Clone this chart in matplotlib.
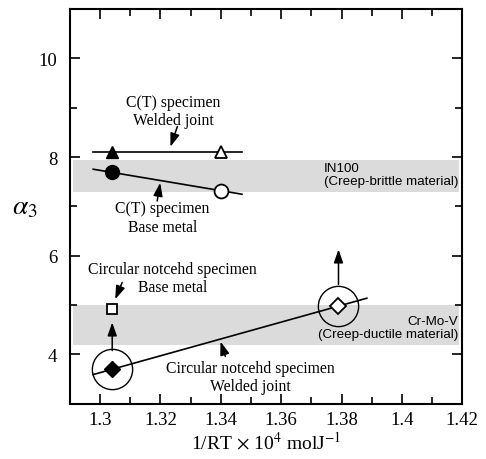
import numpy as np
import matplotlib
matplotlib.use("Agg")
import matplotlib.pyplot as plt

plt.rcParams["font.family"] = ["Liberation Serif", "DejaVu Serif"]
plt.rcParams["mathtext.fontset"] = "stix"

# ---- data ----
x_base, x_ref = 1.304, 1.340          # C(T) specimens
x_cn_lo, x_cn_hi = 1.304, 1.379       # circular notched specimens
ct_welded = [8.10, 8.10]              # C(T) welded joint
ct_base = [7.69, 7.32]                # C(T) base metal
cn_welded = [3.70, 4.98]              # circular notched welded joint
cn_base = 4.93                        # circular notched base metal
in100_band = (7.30, 7.95)
crmov_band = (4.20, 5.00)

fig = plt.figure(figsize=(4.86, 4.60), dpi=100)
ax = fig.add_axes([0.144, 0.120, 0.807, 0.858])
ax.set_xlim(1.29, 1.42)
ax.set_ylim(3, 11)

band_c = "#dcdbdc"
ax.axhspan(*in100_band, xmin=0.008, xmax=0.993, color=band_c, lw=0, zorder=0)
ax.axhspan(*crmov_band, xmin=0.008, xmax=0.993, color=band_c, lw=0, zorder=0)

def fit_line(x0, x1, y0, y1, xa, xb):
    k = (y1 - y0) / (x1 - x0)
    return [xa, xb], [y0 + k * (xa - x0), y0 + k * (xb - x0)]

lw = 1.2
# C(T) welded joint
ax.plot(*fit_line(x_base, x_ref, *ct_welded, 1.2977, 1.347), color="k", lw=lw, zorder=2)
ax.plot(x_base, ct_welded[0], "^", color="k", ms=9, zorder=3)
ax.plot(x_ref, ct_welded[1], "^", mfc="white", mec="k", mew=1.3, ms=9, zorder=3)
# C(T) base metal
ax.plot(*fit_line(x_base, x_ref, *ct_base, 1.2977, 1.347), color="k", lw=lw, zorder=2)
ax.plot(x_base, ct_base[0], "o", color="k", ms=10, zorder=3)
ax.plot(x_ref, ct_base[1], "o", mfc="white", mec="k", mew=1.3, ms=10, zorder=3)
# circular notched specimens
ax.plot(*fit_line(x_cn_lo, x_cn_hi, *cn_welded, 1.2977, 1.3884), color="k", lw=lw, zorder=2)
ax.plot(x_cn_lo, cn_welded[0], "D", color="k", ms=8, zorder=3)
ax.plot(x_cn_hi, cn_welded[1], "D", mfc="white", mec="k", mew=1.3, ms=8, zorder=3)
ax.plot([x_cn_lo, x_cn_hi], cn_welded, "o", mfc="none", mec="k", mew=1.0, ms=29, zorder=3)
ax.plot(x_cn_lo, cn_base, "s", mfc="white", mec="k", mew=1.3, ms=7.5, zorder=3)

# arrows
arr = dict(arrowstyle="-|>,head_length=0.8,head_width=0.28", color="k", lw=1.1,
           shrinkA=0, shrinkB=0)
ax.annotate("", xy=(x_cn_lo, 4.65), xytext=(x_cn_lo, 4.08), arrowprops=arr)
ax.annotate("", xy=(x_cn_hi, 6.13), xytext=(x_cn_hi, 5.42), arrowprops=arr)
ax.annotate("", xy=(1.3233, 8.21), xytext=(1.3256, 8.62), arrowprops=arr)
ax.annotate("", xy=(1.3199, 7.48), xytext=(1.3189, 7.11), arrowprops=arr)
ax.annotate("", xy=(1.3050, 5.12), xytext=(1.3073, 5.46), arrowprops=arr)
ax.annotate("", xy=(1.3399, 4.26), xytext=(1.3415, 3.96), arrowprops=arr)

# labels
fs = 11.3
ax.text(1.3243, 8.93, "C(T) specimen\nWelded joint", ha="center", va="center",
        fontsize=fs, linespacing=1.2)
ax.text(1.3206, 6.78, "C(T) specimen\nBase metal", ha="center", va="center",
        fontsize=fs, linespacing=1.2)
ax.text(1.3240, 5.55, "Circular notcehd specimen\nBase metal", ha="center", va="center",
        fontsize=fs, linespacing=1.2)
ax.text(1.3498, 3.54, "Circular notcehd specimen\nWelded joint", ha="center", va="center",
        fontsize=fs, linespacing=1.2)
sans = ["Liberation Sans", "DejaVu Sans"]
ax.text(1.3741, 7.65, "IN100\n(Creep-brittle material)", ha="left", va="center",
        fontsize=9.6, family=sans, linespacing=1.15)
ax.text(1.4186, 4.55, "Cr-Mo-V\n(Creep-ductile material)", ha="right", va="center",
        fontsize=9.6, family=sans, linespacing=1.15, multialignment="right")

# axes
ax.set_xticks(np.arange(1.30, 1.421, 0.02))
ax.set_xticklabels(["1.3", "1.32", "1.34", "1.36", "1.38", "1.4", "1.42"])
ax.set_xticks(np.arange(1.29, 1.421, 0.01), minor=True)
ax.set_yticks([4, 6, 8, 10])
ax.set_yticks([3, 5, 7, 9, 11], minor=True)
ax.tick_params(which="both", direction="in", top=True, right=True, width=1.2,
               labelsize=13.5)
ax.tick_params(which="major", length=7)
ax.tick_params(which="minor", length=5)
ax.tick_params(axis="x", pad=5)
ax.tick_params(axis="y", pad=9)
for s in ax.spines.values():
    s.set_linewidth(1.5)

ax.set_xlabel(r"1/RT$\,\times\,$10$^{4}$ molJ$^{-1}$", fontsize=14, labelpad=2)
ax.set_ylabel(r"$\alpha_3$", fontsize=20, rotation=0, labelpad=10, va="center")

fig.savefig("out.png", dpi=100)
